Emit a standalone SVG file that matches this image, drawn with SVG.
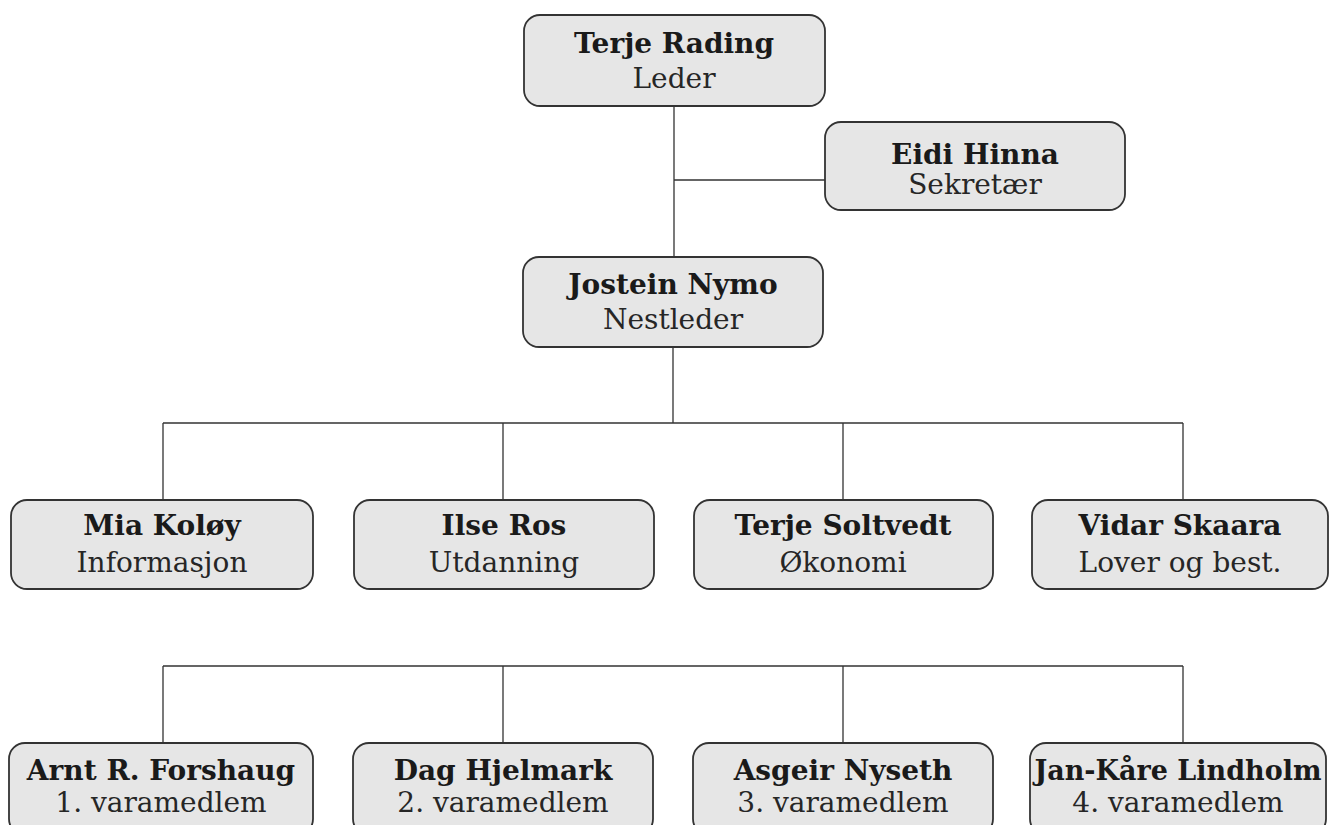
<svg xmlns="http://www.w3.org/2000/svg" width="1331" height="825" viewBox="0 0 1331 825">
<style>
.box{fill:#e6e6e6;stroke:#333333;stroke-width:1.8}
.conn{stroke:#333333;stroke-width:1.3;fill:none}
.n{font-family:"DejaVu Serif","Liberation Serif",serif;font-weight:bold;font-size:28px;fill:#1a1a1a;text-anchor:middle}
.r{font-family:"DejaVu Serif","Liberation Serif",serif;font-size:28px;fill:#262626;text-anchor:middle}
</style>
<rect width="1331" height="825" fill="#ffffff"/>
<g id="connectors" class="conn">
<path d="M674 106V257M674 180H825"/>
<path d="M673 347V423M163 423H1183M163 423V500M503 423V500M843 423V500M1183 423V500"/>
<path d="M163 666H1183M163 666V743M503 666V743M843 666V743M1183 666V743"/>
</g>
<g id="terje-rading"><rect class="box" x="524" y="15" width="301" height="91" rx="16"/><text class="n" x="674" y="53">Terje Rading</text><text class="r" x="674" y="88">Leder</text></g>
<g id="eidi-hinna"><rect class="box" x="825" y="122" width="300" height="88" rx="16"/><text class="n" x="975" y="164">Eidi Hinna</text><text class="r" x="975" y="194">Sekretær</text></g>
<g id="jostein-nymo"><rect class="box" x="523" y="257" width="300" height="90" rx="16"/><text class="n" x="673" y="294">Jostein Nymo</text><text class="r" x="673" y="329">Nestleder</text></g>
<g id="mia-koloy"><rect class="box" x="11" y="500" width="302" height="89" rx="16"/><text class="n" x="162" y="535">Mia Koløy</text><text class="r" x="162" y="572">Informasjon</text></g>
<g id="ilse-ros"><rect class="box" x="354" y="500" width="300" height="89" rx="16"/><text class="n" x="504" y="535">Ilse Ros</text><text class="r" x="504" y="572">Utdanning</text></g>
<g id="terje-soltvedt"><rect class="box" x="694" y="500" width="299" height="89" rx="16"/><text class="n" x="843" y="535">Terje Soltvedt</text><text class="r" x="843" y="572">Økonomi</text></g>
<g id="vidar-skaara"><rect class="box" x="1032" y="500" width="296" height="89" rx="16"/><text class="n" x="1180" y="535">Vidar Skaara</text><text class="r" x="1180" y="572">Lover og best.</text></g>
<g id="arnt-forshaug"><rect class="box" x="9" y="743" width="304" height="92" rx="16"/><text class="n" x="161" y="780">Arnt R. Forshaug</text><text class="r" x="161" y="812">1. varamedlem</text></g>
<g id="dag-hjelmark"><rect class="box" x="353" y="743" width="300" height="92" rx="16"/><text class="n" x="503" y="780">Dag Hjelmark</text><text class="r" x="503" y="812">2. varamedlem</text></g>
<g id="asgeir-nyseth"><rect class="box" x="693" y="743" width="300" height="92" rx="16"/><text class="n" x="843" y="780">Asgeir Nyseth</text><text class="r" x="843" y="812">3. varamedlem</text></g>
<g id="jan-kare-lindholm"><rect class="box" x="1030" y="743" width="296" height="92" rx="16"/><text class="n" x="1178" y="780" style="font-size:27px">Jan-Kåre Lindholm</text><text class="r" x="1178" y="812">4. varamedlem</text></g>
</svg>
